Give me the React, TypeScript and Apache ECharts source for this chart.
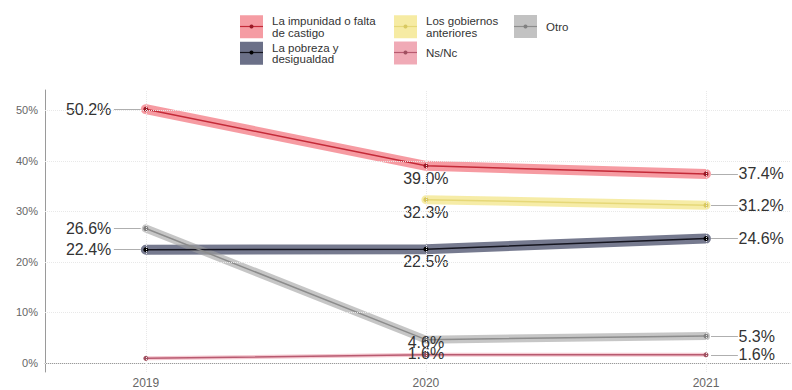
import React, { useEffect, useRef } from 'react';
import * as echarts from 'echarts';

const years = [2019, 2020, 2021];
const impunidad = [50.2, 39.0, 37.4];
const pobreza = [22.4, 22.5, 24.6];
const gobiernos: (number | null)[] = [null, 32.3, 31.2];
const nsnc = [0.9, 1.6, 1.6];
const otro = [26.6, 4.6, 5.3];
const yTicks = [0, 10, 20, 30, 40, 50];

const seriesNames = [
  'La impunidad o falta de castigo',
  'La pobreza y desigualdad',
  'Los gobiernos anteriores',
  'Ns/Nc',
  'Otro',
];
const legendTexts: Record<string, string> = {
  'La impunidad o falta de castigo': 'La impunidad o falta\nde castigo',
  'La pobreza y desigualdad': 'La pobreza y\ndesigualdad',
  'Los gobiernos anteriores': 'Los gobiernos\nanteriores',
  'Ns/Nc': 'Ns/Nc',
  'Otro': 'Otro',
};
// which points carry a value label (per year index)
const showLabels: Record<string, boolean[]> = {
  'La impunidad o falta de castigo': [true, true, true],
  'La pobreza y desigualdad': [true, true, true],
  'Los gobiernos anteriores': [false, true, true],
  'Ns/Nc': [false, true, true],
  'Otro': [true, true, true],
};
// middle-year labels nudged upward (repelled into the panel)
const midLabelNudge: Record<string, number> = {
  'Ns/Nc': -14,
  'Otro': -10,
};

const FONT = 'Liberation Sans, Arial, sans-serif';

type Style = { band: string; bandWidth: number; line: string; point: string; key: string };
const styles: Record<string, Style> = {
  'La impunidad o falta de castigo': { band: 'rgba(240,88,100,0.6)', bandWidth: 10, line: '#c42a38', point: '#9a1a26', key: '#f59ca3' },
  'La pobreza y desigualdad': { band: 'rgba(60,66,96,0.7)', bandWidth: 10, line: '#15151f', point: '#000000', key: '#6b7088' },
  'Los gobiernos anteriores': { band: 'rgba(242,228,130,0.7)', bandWidth: 9, line: '#e6d878', point: '#d8c860', key: '#f6eba3' },
  'Ns/Nc': { band: 'rgba(235,150,165,0.5)', bandWidth: 4, line: '#b85a70', point: '#a05060', key: '#f0aab6' },
  'Otro': { band: 'rgba(160,160,160,0.6)', bandWidth: 8, line: '#8c8c8c', point: '#808080', key: '#c2c2c2' },
};

const valuesByName: Record<string, (number | null)[]> = {
  'La impunidad o falta de castigo': impunidad,
  'La pobreza y desigualdad': pobreza,
  'Los gobiernos anteriores': gobiernos,
  'Ns/Nc': nsnc,
  'Otro': otro,
};

function buildSeries(name: string) {
  const vals = valuesByName[name];
  const st = styles[name];
  const pts: { value: [number, number]; idx: number }[] = [];
  years.forEach((y, i) => {
    const v = vals[i];
    if (v !== null && v !== undefined) pts.push({ value: [y, v], idx: i });
  });
  const band = {
    type: 'line',
    name,
    data: pts.map((p) => p.value),
    symbol: 'none',
    lineStyle: { color: st.band, width: st.bandWidth, cap: 'round' },
    itemStyle: { color: st.key },
    z: 2,
    silent: true,
  };
  const leaders: any[] = [];
  pts.forEach((p) => {
    if (!showLabels[name][p.idx]) return;
    if (p.idx === 0) {
      leaders.push([{ coord: [p.value[0] - 0.114, p.value[1]] }, { coord: [p.value[0] - 0.018, p.value[1]] }]);
    } else if (p.idx === years.length - 1) {
      leaders.push([{ coord: [p.value[0] + 0.018, p.value[1]] }, { coord: [p.value[0] + 0.114, p.value[1]] }]);
    }
  });
  const line = {
    type: 'line',
    name: name + ' ',
    data: pts.map((p) => {
      const show = showLabels[name][p.idx];
      let position: any = 'bottom';
      let distance = 2;
      let offset = [0, 0];
      if (p.idx === 0) { position = 'left'; distance = 32; }
      else if (p.idx === years.length - 1) { position = 'right'; distance = 30; }
      else if (midLabelNudge[name] !== undefined) { offset = [0, midLabelNudge[name]]; }
      return {
        value: p.value,
        label: { show, position, distance, offset },
      };
    }),
    symbol: 'circle',
    symbolSize: 5,
    lineStyle: { color: st.line, width: 1.5 },
    itemStyle: { color: st.point },
    label: {
      color: '#333',
      fontSize: 16,
      fontFamily: FONT,
      formatter: (p: any) => p.value[1].toFixed(1) + '%',
    },
    markLine: {
      silent: true,
      symbol: 'none',
      label: { show: false },
      lineStyle: { color: '#9a9a9a', width: 0.8, type: 'solid' },
      data: leaders,
    },
    z: 4,
  };
  return [band, line];
}

const gridSeries = {
  type: 'line',
  name: 'grid',
  data: [],
  silent: true,
  z: 0,
  markLine: {
    silent: true,
    symbol: 'none',
    label: { show: false },
    lineStyle: { color: '#e8e8e8', width: 1, type: 'dotted' },
    data: [
      ...yTicks.map((t) => ({ yAxis: t })),
      ...years.map((y) => ({ xAxis: y })),
    ],
  },
};

export default function App() {
  const ref = useRef<HTMLDivElement>(null);
  useEffect(() => {
    if (!ref.current) return;
    const chart = echarts.init(ref.current, undefined, { renderer: 'svg' });
    const legendBase = {
      orient: 'vertical',
      top: 15,
      padding: 0,
      icon: 'rect',
      itemWidth: 23,
      itemHeight: 23,
      itemGap: 3,
      selectedMode: false,
      formatter: (n: string) => legendTexts[n],
      textStyle: { color: '#333', fontSize: 11.5, lineHeight: 11.5, fontFamily: FONT, padding: [0, 0, 0, 4] },
    };
    const mkLegendData = (ns: string[]) => ns.map((n) => ({ name: n, itemStyle: { color: styles[n].key } }));
    const legendCols = [
      { left: 240, names: [seriesNames[0], seriesNames[1]] },
      { left: 394, names: [seriesNames[2], seriesNames[3]] },
      { left: 514, names: [seriesNames[4]] },
    ];
    const keyGraphics: any[] = [];
    legendCols.forEach((col) => {
      col.names.forEach((n, r) => {
        const cy = 15 + r * 26 + 11.5;
        keyGraphics.push({
          type: 'line',
          z: 100,
          shape: { x1: col.left, y1: cy, x2: col.left + 23, y2: cy },
          style: { stroke: styles[n].line, lineWidth: 1.2 },
          silent: true,
        });
        keyGraphics.push({
          type: 'circle',
          z: 101,
          shape: { cx: col.left + 11.5, cy, r: 2 },
          style: { fill: styles[n].point },
          silent: true,
        });
      });
    });

    const option: any = {
      animation: false,
      backgroundColor: '#ffffff',
      textStyle: { fontFamily: FONT },
      legend: legendCols.map((c) => ({ ...legendBase, left: c.left, data: mkLegendData(c.names), z: 2 })),
      graphic: { elements: keyGraphics, z: 100, zlevel: 0 },
      grid: { left: 45, right: 2, top: 90, bottom: 18 },
      xAxis: {
        type: 'value',
        min: 2018.64,
        max: 2021.3,
        axisLine: { show: true, lineStyle: { color: '#9a9a9a', width: 1 } },
        axisTick: { show: false },
        splitLine: { show: false },
        axisLabel: {
          customValues: years,
          formatter: (v: number) => String(Math.round(v)),
          color: '#666',
          fontSize: 12,
          margin: 5,
          fontFamily: FONT,
        },
      },
      yAxis: {
        type: 'value',
        min: -1.8,
        max: 54,
        axisLine: { show: true, lineStyle: { color: '#9a9a9a', width: 1 } },
        axisTick: { show: false },
        splitLine: { show: false },
        axisLabel: {
          customValues: yTicks,
          formatter: (v: number) => Math.round(v) + '%',
          color: '#666',
          fontSize: 11,
          margin: 7,
          fontFamily: FONT,
        },
      },
      series: [gridSeries, ...seriesNames.flatMap((n) => buildSeries(n))],
    };
    chart.setOption(option);
    return () => chart.dispose();
  }, []);
  return <div ref={ref} style={{ width: 792, height: 390, position: 'absolute', left: 0, top: 0 }} />;
}
